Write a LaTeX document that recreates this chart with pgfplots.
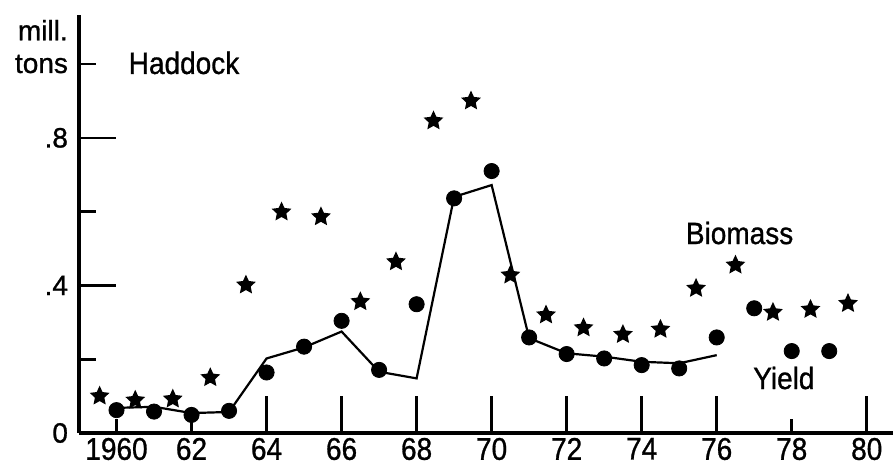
\documentclass[border=0pt]{standalone}
\usepackage{fontspec}
\setmainfont[FakeBold=1]{Liberation Sans}
\usepackage{pgfplots}
\pgfplotsset{compat=1.18}

\pgfdeclareplotmark{fivestar}{%
  \pgfpathmoveto{\pgfpointpolar{90}{\pgfplotmarksize}}%
  \pgfpathlineto{\pgfpointpolar{126}{0.48\pgfplotmarksize}}%
  \pgfpathlineto{\pgfpointpolar{162}{\pgfplotmarksize}}%
  \pgfpathlineto{\pgfpointpolar{198}{0.48\pgfplotmarksize}}%
  \pgfpathlineto{\pgfpointpolar{234}{\pgfplotmarksize}}%
  \pgfpathlineto{\pgfpointpolar{270}{0.48\pgfplotmarksize}}%
  \pgfpathlineto{\pgfpointpolar{306}{\pgfplotmarksize}}%
  \pgfpathlineto{\pgfpointpolar{342}{0.48\pgfplotmarksize}}%
  \pgfpathlineto{\pgfpointpolar{18}{\pgfplotmarksize}}%
  \pgfpathlineto{\pgfpointpolar{54}{0.48\pgfplotmarksize}}%
  \pgfpathclose
  \pgfusepathqfill
}

\pgfplotstableread{
year yield
1960 0.062
1961 0.058
1962 0.049
1963 0.060
1964 0.164
1965 0.234
1966 0.304
1967 0.171
1968 0.349
1969 0.636
1970 0.710
1971 0.259
1972 0.214
1973 0.202
1974 0.184
1975 0.175
1976 0.259
1977 0.338
1978 0.222
1979 0.222
}\yieldtab

\pgfplotstableread{
year trend
1960 0.068
1961 0.071
1962 0.054
1963 0.057
1964 0.202
1965 0.232
1966 0.275
1967 0.166
1968 0.148
1969 0.640
1970 0.672
1971 0.257
1972 0.216
1973 0.207
1974 0.193
1975 0.189
1976 0.211
}\trendtab

\pgfplotstableread{
year biomass
1959.55 0.100
1960.5 0.089
1961.5 0.092
1962.5 0.150
1963.45 0.401
1964.4 0.599
1965.45 0.586
1966.5 0.356
1967.45 0.464
1968.45 0.846
1969.45 0.900
1970.5 0.428
1971.45 0.320
1972.45 0.285
1973.5 0.267
1974.5 0.281
1975.45 0.392
1976.5 0.455
1977.5 0.327
1978.5 0.335
1979.5 0.351
}\biomasstab

\begin{document}
\begin{tikzpicture}
\begin{axis}[
  at={(0,0)}, anchor=south west,
  scale only axis, width=407pt, height=209pt,
  xmin=1959, xmax=1980.7, ymin=0, ymax=1.133,
  clip=false,
  axis lines*=left,
  axis line style={line width=1.8pt, -},
  tick align=inside,
  tick style={line width=1.3pt, black},
  major tick length=18.5pt,
  xtick={1964,1966,1968,1970,1972,1974,1976,1980},
  xticklabels={64,66,68,70,72,74,76,80},
  extra x ticks={1960,1962,1978},
  extra x tick labels={1960,62,78},
  extra x tick style={major tick length=7pt},
  ytick={0,0.4,0.8},
  yticklabels={0,.4,.8},
  extra y ticks={0.2,0.6,1.0},
  extra y tick labels={,,tons},
  extra y tick style={major tick length=8.5pt},
  ticklabel style={font=\fontsize{14}{16}\selectfont},
  yticklabel style={xshift=-2pt},
  xticklabel style={yshift=1.5pt, yscale=1.12},
]
\addplot[black, line width=1.1pt] table[x=year, y=trend] {\trendtab};
\addplot[only marks, mark=*, mark size=3.8pt, black] table[x=year, y=yield] {\yieldtab};
\addplot[only marks, mark=fivestar, mark size=5.2pt, black] table[x=year, y=biomass] {\biomasstab};
\node[font=\fontsize{14}{16}\selectfont, yscale=1.1] at (axis cs:1961.8,1.003) {Haddock};
\node[font=\fontsize{14}{16}\selectfont, yscale=1.1] at (axis cs:1976.61,0.542) {Biomass};
\node[font=\fontsize{14}{16}\selectfont, yscale=1.1] at (axis cs:1977.79,0.149) {Yield};
\node[font=\fontsize{14}{16}\selectfont, anchor=east, inner sep=0pt] at (axis cs:1958.71,1.092) {mill.};
\end{axis}
\pgfresetboundingbox
\path[use as bounding box] (-39.5pt,-18pt) rectangle (407pt,216.5pt);
\end{tikzpicture}
\end{document}
